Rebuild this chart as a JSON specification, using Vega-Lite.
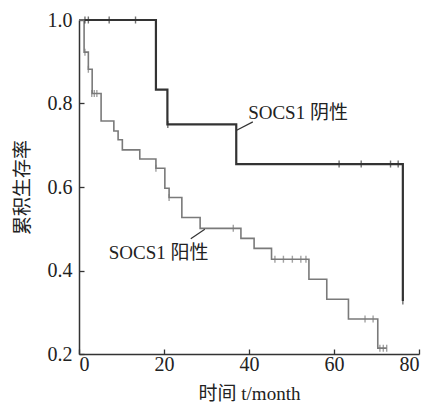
{
  "$schema": "https://vega.github.io/schema/vega-lite/v6.json",
  "width": 340,
  "height": 334,
  "autosize": "none",
  "padding": {"left": 79, "top": 20, "right": 11, "bottom": 51},
  "background": "white",
  "config": {
    "view": {"stroke": null},
    "font": "Liberation Serif, Noto Sans CJK SC",
    "axis": {
      "domainColor": "#333",
      "domainWidth": 1.5,
      "tickColor": "#333",
      "tickWidth": 1.3,
      "tickSize": -5,
      "grid": false,
      "labelFont": "Liberation Serif",
      "labelFontSize": 20,
      "labelColor": "#222",
      "titleFont": "Liberation Serif, Noto Sans CJK SC",
      "titleFontSize": 19,
      "titleFontWeight": "normal",
      "titleColor": "#222"
    }
  },
  "datasets": {
    "curves": [
      {"group": "neg", "month": 0, "surv": 1.0},
      {"group": "neg", "month": 18.1, "surv": 0.833},
      {"group": "neg", "month": 20.8, "surv": 0.75},
      {"group": "neg", "month": 37.0, "surv": 0.655},
      {"group": "neg", "month": 76.2, "surv": 0.327},
      {"group": "pos", "month": 0, "surv": 1.0},
      {"group": "pos", "month": 1.2, "surv": 0.923},
      {"group": "pos", "month": 2.2, "surv": 0.882},
      {"group": "pos", "month": 3.1, "surv": 0.824},
      {"group": "pos", "month": 5.2, "surv": 0.758},
      {"group": "pos", "month": 8.2, "surv": 0.734},
      {"group": "pos", "month": 9.2, "surv": 0.713},
      {"group": "pos", "month": 10.2, "surv": 0.689},
      {"group": "pos", "month": 14.3, "surv": 0.667},
      {"group": "pos", "month": 18.1, "surv": 0.645},
      {"group": "pos", "month": 20.2, "surv": 0.597},
      {"group": "pos", "month": 21.2, "surv": 0.575},
      {"group": "pos", "month": 24.2, "surv": 0.527},
      {"group": "pos", "month": 28.5, "surv": 0.501},
      {"group": "pos", "month": 38.1, "surv": 0.477},
      {"group": "pos", "month": 41.2, "surv": 0.453},
      {"group": "pos", "month": 45.3, "surv": 0.427},
      {"group": "pos", "month": 54.1, "surv": 0.379},
      {"group": "pos", "month": 58.3, "surv": 0.331},
      {"group": "pos", "month": 63.4, "surv": 0.284},
      {"group": "pos", "month": 70.3, "surv": 0.214},
      {"group": "pos", "month": 72.4, "surv": 0.214}
    ],
    "censors": [
      {"group": "neg", "month": 1.4, "surv": 1.0},
      {"group": "neg", "month": 2.2, "surv": 1.0},
      {"group": "neg", "month": 7.1, "surv": 1.0},
      {"group": "neg", "month": 13.3, "surv": 1.0},
      {"group": "neg", "month": 20.9, "surv": 0.75},
      {"group": "neg", "month": 61.2, "surv": 0.655},
      {"group": "neg", "month": 66.4, "surv": 0.655},
      {"group": "neg", "month": 73.3, "surv": 0.655},
      {"group": "neg", "month": 75.1, "surv": 0.655},
      {"group": "neg", "month": 76.2, "surv": 0.327},
      {"group": "pos", "month": 1.4, "surv": 0.923},
      {"group": "pos", "month": 2.2, "surv": 0.882},
      {"group": "pos", "month": 3.0, "surv": 0.824},
      {"group": "pos", "month": 3.6, "surv": 0.824},
      {"group": "pos", "month": 4.2, "surv": 0.824},
      {"group": "pos", "month": 18.1, "surv": 0.645},
      {"group": "pos", "month": 21.2, "surv": 0.575},
      {"group": "pos", "month": 36.3, "surv": 0.501},
      {"group": "pos", "month": 46.1, "surv": 0.427},
      {"group": "pos", "month": 48.1, "surv": 0.427},
      {"group": "pos", "month": 50.2, "surv": 0.427},
      {"group": "pos", "month": 52.2, "surv": 0.427},
      {"group": "pos", "month": 53.4, "surv": 0.427},
      {"group": "pos", "month": 67.3, "surv": 0.284},
      {"group": "pos", "month": 69.2, "surv": 0.284},
      {"group": "pos", "month": 70.8, "surv": 0.214},
      {"group": "pos", "month": 71.6, "surv": 0.214},
      {"group": "pos", "month": 72.4, "surv": 0.214}
    ],
    "labels": [
      {"label": "SOCS1 阴性", "month": 39.8, "surv": 0.777},
      {"label": "SOCS1 阳性", "month": 7.0, "surv": 0.443}
    ],
    "leaders": [
      {"month": 37.1, "surv": 0.736, "month2": 40.9, "surv2": 0.756},
      {"month": 26.3, "surv": 0.476, "month2": 29.6, "surv2": 0.499}
    ]
  },
  "layer": [
    {
      "data": {"name": "curves"},
      "mark": {"type": "line", "interpolate": "step-after"},
      "encoding": {
        "x": {"field": "month", "type": "quantitative", "scale": {"domain": [0, 80]},
              "axis": {"values": [0, 20, 40, 60, 80], "title": "时间 t/month", "labelPadding": 5, "titlePadding": 10}},
        "y": {"field": "surv", "type": "quantitative", "scale": {"domain": [0.2, 1.0]},
              "axis": {"values": [0.2, 0.4, 0.6, 0.8, 1.0], "format": ".1f", "title": "累积生存率", "labelPadding": 12, "titlePadding": 15}},
        "detail": {"field": "group"},
        "color": {"field": "group", "type": "nominal", "scale": {"domain": ["neg", "pos"], "range": ["#333333", "#7a7a7a"]}, "legend": null},
        "strokeWidth": {"field": "group", "type": "nominal", "scale": {"domain": ["neg", "pos"], "range": [2.2, 1.6]}, "legend": null}
      }
    },
    {
      "data": {"name": "censors"},
      "mark": {"type": "tick", "orient": "vertical", "size": 7, "thickness": 1.4},
      "encoding": {
        "x": {"field": "month", "type": "quantitative"},
        "y": {"field": "surv", "type": "quantitative"},
        "color": {"field": "group", "type": "nominal", "scale": {"domain": ["neg", "pos"], "range": ["#333333", "#7a7a7a"]}, "legend": null}
      }
    },
    {
      "data": {"name": "leaders"},
      "mark": {"type": "rule", "color": "#333", "strokeWidth": 1.2},
      "encoding": {
        "x": {"field": "month", "type": "quantitative"},
        "y": {"field": "surv", "type": "quantitative"},
        "x2": {"field": "month2"},
        "y2": {"field": "surv2"}
      }
    },
    {
      "data": {"name": "labels"},
      "mark": {"type": "text", "align": "left", "baseline": "middle", "fontSize": 19, "color": "#222", "font": "Liberation Serif, Noto Sans CJK SC"},
      "encoding": {
        "x": {"field": "month", "type": "quantitative"},
        "y": {"field": "surv", "type": "quantitative"},
        "text": {"field": "label"}
      }
    }
  ]
}
